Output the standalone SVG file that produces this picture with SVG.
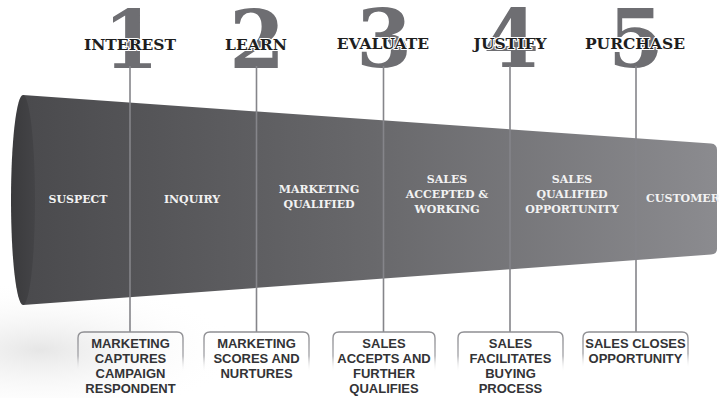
<svg xmlns="http://www.w3.org/2000/svg" width="719" height="398" viewBox="0 0 719 398">
  <defs>
    <linearGradient id="body" x1="0" y1="0" x2="1" y2="0">
      <stop offset="0" stop-color="#4a4a4d"/>
      <stop offset="0.5" stop-color="#68686b"/>
      <stop offset="1" stop-color="#8b8b8f"/>
    </linearGradient>
    <linearGradient id="face" x1="0" y1="0" x2="1" y2="0">
      <stop offset="0" stop-color="#3a3a3c"/>
      <stop offset="1" stop-color="#444447"/>
    </linearGradient>
    <radialGradient id="haze" cx="0.5" cy="0.5" r="0.5">
      <stop offset="0" stop-color="#e6e6e6"/>
      <stop offset="1" stop-color="#ffffff" stop-opacity="0"/>
    </radialGradient>
    <linearGradient id="boxEdge" x1="0" y1="0" x2="0" y2="1">
      <stop offset="0" stop-color="#8e8e92"/>
      <stop offset="0.6" stop-color="#a8a8ac"/>
      <stop offset="1" stop-color="#ffffff" stop-opacity="0"/>
    </linearGradient>
  </defs>
  <style>
    .num { font-family: "DejaVu Serif", "Liberation Serif", serif; font-weight: bold; font-size: 80px; fill: #6e6e72; text-anchor: middle; }
    .stage { font-family: "DejaVu Serif", "Liberation Serif", serif; font-weight: bold; font-size: 15.5px; fill: #1e1e1e; text-anchor: middle; stroke: #ffffff; stroke-width: 2.2px; paint-order: stroke; stroke-linejoin: round; }
    .lvl { font-family: "DejaVu Serif", "Liberation Serif", serif; font-weight: bold; font-size: 11px; fill: #f2f2f2; text-anchor: middle; }
    .act { font-family: "Liberation Sans", Arial, sans-serif; font-weight: bold; font-size: 13px; fill: #333336; text-anchor: middle; }
    .edge { fill: none; stroke: url(#boxEdge); stroke-width: 1.4; }
    .conn { stroke: #85858a; stroke-width: 1.6; fill: none; }
  </style>

  <rect width="719" height="398" fill="#ffffff"/>
  <ellipse cx="40" cy="350" rx="200" ry="70" fill="url(#haze)"/>

  <!-- big step numerals -->
  <g id="numerals">
    <text class="num" x="131" y="68">1</text>
    <text class="num" x="257" y="68">2</text>
    <text class="num" x="384" y="67">3</text>
    <text class="num" x="511" y="67">4</text>
    <text class="num" x="636" y="67">5</text>
  </g>

  <!-- funnel -->
  <g id="funnel">
    <path d="M23,95 L711,143.5 Q717,144 717,150 L717,249 Q717,254 711,254.5 L23,305 Z" fill="url(#body)"/>
    <ellipse cx="23" cy="200" rx="12" ry="105" fill="url(#face)"/>
  </g>

  <!-- connectors -->
  <g id="connectors">
    <line class="conn" x1="130" y1="66" x2="130" y2="332"/>
    <line class="conn" x1="256.5" y1="66" x2="256.5" y2="332"/>
    <line class="conn" x1="383.5" y1="66" x2="383.5" y2="332"/>
    <line class="conn" x1="510" y1="66" x2="510" y2="332"/>
    <line class="conn" x1="636" y1="66" x2="636" y2="332"/>
  </g>

  <!-- stage headings -->
  <g id="stage-interest"><text class="stage" x="130" y="50">INTEREST</text></g>
  <g id="stage-learn"><text class="stage" x="256" y="50">LEARN</text></g>
  <g id="stage-evaluate"><text class="stage" x="383" y="49">EVALUATE</text></g>
  <g id="stage-justify"><text class="stage" x="510" y="49">JUSTIFY</text></g>
  <g id="stage-purchase"><text class="stage" x="635" y="49">PURCHASE</text></g>

  <!-- funnel levels -->
  <g id="lvl-suspect"><text class="lvl" x="78" y="203">SUSPECT</text></g>
  <g id="lvl-inquiry"><text class="lvl" x="192" y="203">INQUIRY</text></g>
  <g id="lvl-mql">
    <text class="lvl" x="319" y="193">MARKETING</text>
    <text class="lvl" x="319" y="208">QUALIFIED</text>
  </g>
  <g id="lvl-sal">
    <text class="lvl" x="447" y="183">SALES</text>
    <text class="lvl" x="447" y="198">ACCEPTED &amp;</text>
    <text class="lvl" x="447" y="213">WORKING</text>
  </g>
  <g id="lvl-sqo">
    <text class="lvl" x="572" y="183">SALES</text>
    <text class="lvl" x="572" y="198">QUALIFIED</text>
    <text class="lvl" x="572" y="213">OPPORTUNITY</text>
  </g>
  <g id="lvl-customer"><text class="lvl" x="683" y="202">CUSTOMER</text></g>

  <!-- activity boxes -->
  <g id="act-1">
    <path class="edge" d="M78,372 L78,338 Q78,332 84,332 L177,332 Q183,332 183,338 L183,372"/>
    <text class="act" x="130.5" y="348">MARKETING</text>
    <text class="act" x="130.5" y="363">CAPTURES</text>
    <text class="act" x="130.5" y="378">CAMPAIGN</text>
    <text class="act" x="130.5" y="393">RESPONDENT</text>
  </g>
  <g id="act-2">
    <path class="edge" d="M204,372 L204,338 Q204,332 210,332 L303,332 Q309,332 309,338 L309,372"/>
    <text class="act" x="256.5" y="348">MARKETING</text>
    <text class="act" x="256.5" y="363">SCORES AND</text>
    <text class="act" x="256.5" y="378">NURTURES</text>
  </g>
  <g id="act-3">
    <path class="edge" d="M333,372 L333,338 Q333,332 339,332 L429,332 Q435,332 435,338 L435,372"/>
    <text class="act" x="384" y="348">SALES</text>
    <text class="act" x="384" y="363">ACCEPTS AND</text>
    <text class="act" x="384" y="378">FURTHER</text>
    <text class="act" x="384" y="393">QUALIFIES</text>
  </g>
  <g id="act-4">
    <path class="edge" d="M458,372 L458,338 Q458,332 464,332 L557,332 Q563,332 563,338 L563,372"/>
    <text class="act" x="510.5" y="348">SALES</text>
    <text class="act" x="510.5" y="363">FACILITATES</text>
    <text class="act" x="510.5" y="378">BUYING</text>
    <text class="act" x="510.5" y="393">PROCESS</text>
  </g>
  <g id="act-5">
    <path class="edge" d="M583,368 L583,338 Q583,332 589,332 L682,332 Q688,332 688,338 L688,368"/>
    <text class="act" x="635.5" y="348">SALES CLOSES</text>
    <text class="act" x="635.5" y="363">OPPORTUNITY</text>
  </g>
</svg>
